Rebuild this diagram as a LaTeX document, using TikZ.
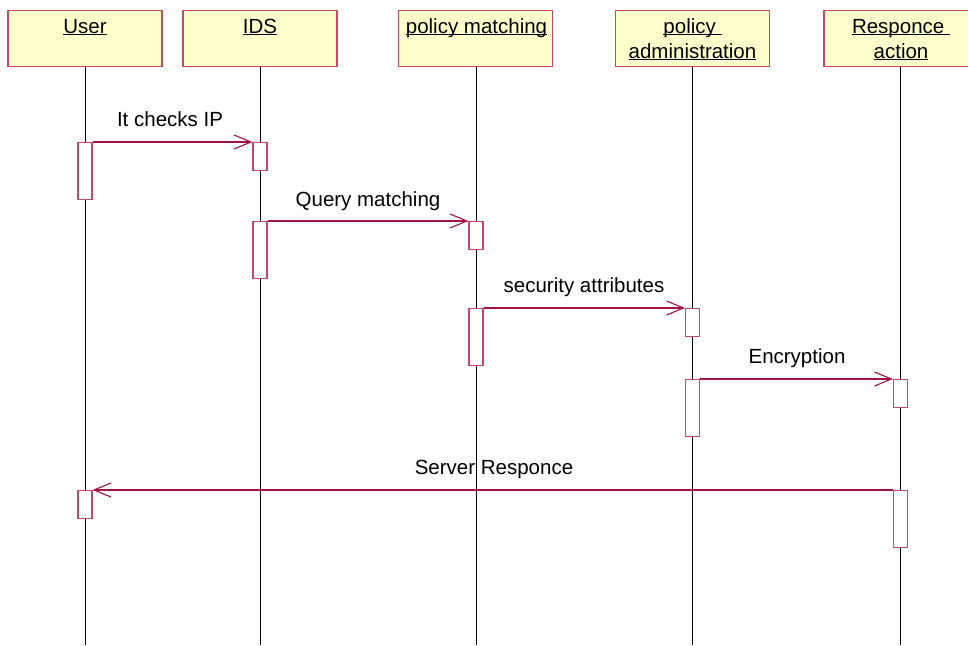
\documentclass[tikz,border=0pt]{standalone}
\usepackage{fontspec}
\setmainfont{Liberation Sans}
\usetikzlibrary{arrows.meta}
\definecolor{boxline}{RGB}{196,72,104}
\definecolor{msgline}{RGB}{164,18,66}
\definecolor{headfill}{RGB}{255,255,204}
\newcommand\hul[1]{\setbox0\hbox{#1}\rlap{\rule[-2.2pt]{\wd0}{1.1pt}}\box0}
\begin{document}
\begin{tikzpicture}[x=1pt,y=-1pt,
  every node/.style={font=\fontsize{20.5}{25}\selectfont},
  head/.style={draw=boxline,line width=1.2pt,fill=headfill,minimum width=154pt,minimum height=56pt,inner sep=0pt,anchor=north},
  htext/.style={anchor=base,inner sep=0pt,text=black},
  life/.style={draw=black,line width=0.9pt},
  act/.style={draw=boxline,line width=1.1pt,fill=white,minimum width=14pt,inner sep=0pt,anchor=north},
  msg/.style={draw=msgline,line width=1.1pt,-{Straight Barb[length=17pt,width=14pt,line width=1.1pt]}},
  mlabel/.style={anchor=base,inner sep=0pt,text=black}]
\useasboundingbox (0,0) rectangle (968,645);
\clip (0,0) rectangle (968,645);
% headers
\node[head] (hU) at (85,10) {};
\node[head] (hI) at (260,10) {};
\node[head] (hP) at (475.5,10) {};
\node[head] (hA) at (692.5,10) {};
\node[head] (hR) at (901,10) {};
\node[htext] (tU) at (85,33) {\hul{User}};
\node[htext] (tI) at (260,33) {\hul{IDS}};
\node[htext] (tP) at (476.5,33) {\hul{policy matching}};
\node[htext] (tA1) at (692.5,33) {\hul{policy\ }};
\node[htext] (tA2) at (692.5,58) {\hul{administration}};
\node[htext] (tR1) at (901,33) {\hul{Responce\ }};
\node[htext] (tR2) at (901,58) {\hul{action}};
% lifelines
\coordinate (eU) at (85,645);
\coordinate (eI) at (260,645);
\coordinate (eP) at (476,645);
\coordinate (eA) at (692.5,645);
\coordinate (eR) at (900.5,645);
\draw[life] (hU.south) -- (eU);
\draw[life] (hI.south) -- (eI);
\draw[life] (hP.south -| eP) -- (eP);
\draw[life] (hA.south) -- (eA);
\draw[life] (hR.south -| eR) -- (eR);
% activations
\node[act,minimum height=57pt] (aU1) at (85,142) {};
\node[act,minimum height=28pt] (aI1) at (260,142) {};
\node[act,minimum height=57pt] (aI2) at (260,221) {};
\node[act,minimum height=28pt] (aP1) at (476,221) {};
\node[act,minimum height=57pt] (aP2) at (476,308) {};
\node[act,minimum height=28pt] (aA1) at (692.5,308) {};
\node[act,minimum height=57pt] (aA2) at (692.5,379) {};
\node[act,minimum height=28pt] (aR1) at (900.5,379) {};
\node[act,minimum height=57pt] (aR2) at (900.5,490) {};
\node[act,minimum height=28pt] (aU2) at (85,490) {};
% messages
\draw[msg] (aU1.north east) -- (aI1.north west);
\draw[msg] (aI2.north east) -- (aP1.north west);
\draw[msg] (aP2.north east) -- (aA1.north west);
\draw[msg] (aA2.north east) -- (aR1.north west);
\draw[msg] (aR2.north west) -- (aU2.north east);
% labels
\node[mlabel] (l1) at (170,126.5) {It checks IP};
\node[mlabel] (l2) at (368,206.5) {Query matching};
\node[mlabel] (l3) at (584,292.5) {security attributes};
\node[mlabel] (l4) at (797,363) {Encryption};
\node[mlabel] (l5) at (494,474) {Server Responce};
\end{tikzpicture}
\end{document}
